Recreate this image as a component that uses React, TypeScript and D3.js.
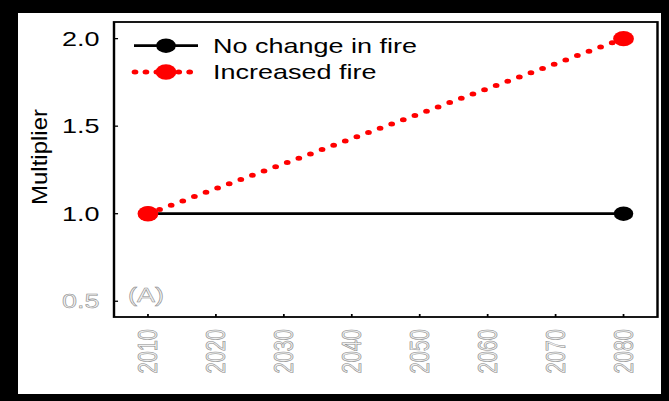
import React from "react";
import * as d3 from "d3";

// Series data
const years = [2010, 2080];
const noChange = [1.0, 1.0];
const increased = [1.0, 2.0];
const xTicks = [2010, 2020, 2030, 2040, 2050, 2060, 2070, 2080];
const yTicks = [0.5, 1.0, 1.5, 2.0];
const seriesNames = ["No change in fire", "Increased fire"];
const seriesColors = ["#000000", "#ff0000"];

const W = 669;
const H = 401;
// horizontal stretch applied to the drawing (text and markers are widened)
const SX = 1.35;
const FONT = "'Liberation Sans', Arial, Helvetica, sans-serif";

const plot = { left: 114, right: 657.5, top: 22, bottom: 317 };

export default function App() {
  const x = d3
    .scaleLinear()
    .domain([2005, 2085])
    .range([plot.left / SX, plot.right / SX]);
  const y = d3
    .scaleLinear()
    .domain([0.41, 2.095])
    .range([plot.bottom, plot.top]);

  const line = d3
    .line<[number, number]>()
    .x((d) => x(d[0]))
    .y((d) => y(d[1]));

  const ptsNo: [number, number][] = years.map((yr, i) => [yr, noChange[i]]);
  const ptsInc: [number, number][] = years.map((yr, i) => [yr, increased[i]]);

  const faint = { fill: "#f0f0f0", stroke: "#8c8c8c", strokeWidth: 0.5 };

  const legendY = [45.7, 72];

  return (
    <svg
      width={W}
      height={H}
      style={{ position: "absolute", left: 0, top: 0, display: "block" }}
    >
      <rect x={0} y={0} width={W} height={H} fill="#000" />
      <rect x={18} y={13} width={643} height={381} fill="#fff" />

      {/* y-axis title */}
      <text
        transform={`translate(47,157) rotate(-90)`}
        textAnchor="middle"
        fontFamily={FONT}
        fontSize={22}
        textLength={96}
        lengthAdjust="spacingAndGlyphs"
        fill="#000"
      >
        Multiplier
      </text>

      <g transform={`scale(${SX},1)`}>
        {/* plot frame */}
        <rect
          x={plot.left / SX}
          y={plot.top}
          width={(plot.right - plot.left) / SX}
          height={plot.bottom - plot.top}
          fill="none"
          stroke="#000"
          strokeWidth={1.8}
        />

        {/* y ticks and labels */}
        {yTicks.map((t) => (
          <g key={`y${t}`}>
            <line
              x1={plot.left / SX}
              x2={plot.left / SX + 3}
              y1={y(t)}
              y2={y(t)}
              stroke="#000"
              strokeWidth={1.3}
            />
            <text
              x={99.5 / SX}
              y={y(t)}
              dy="0.36em"
              textAnchor="end"
              fontFamily={FONT}
              fontSize={20}
              {...(t === 0.5 ? faint : { fill: "#000" })}
            >
              {t.toFixed(1)}
            </text>
          </g>
        ))}

        {/* x ticks and labels */}
        {xTicks.map((t) => (
          <g key={`x${t}`}>
            <line
              x1={x(t)}
              x2={x(t)}
              y1={plot.bottom}
              y2={plot.bottom - 3}
              stroke="#000"
              strokeWidth={1.3}
            />
            <text
              transform={`translate(${x(t) + 9 / SX},329) rotate(-90)`}
              textAnchor="end"
              fontFamily={FONT}
              fontSize={20}
              {...faint}
            >
              {t}
            </text>
          </g>
        ))}

        {/* panel label */}
        <text x={128 / SX} y={302} fontFamily={FONT} fontSize={20} {...faint}>
          (A)
        </text>

        {/* no change series */}
        <path d={line(ptsNo) || ""} fill="none" stroke={seriesColors[0]} strokeWidth={2.8} />
        {ptsNo.map((d, i) => (
          <circle key={`b${i}`} cx={x(d[0])} cy={y(d[1])} r={7.2} fill={seriesColors[0]} />
        ))}

        {/* increased fire series */}
        <path
          d={line(ptsInc) || ""}
          fill="none"
          stroke={seriesColors[1]}
          strokeWidth={5}
          strokeLinecap="round"
          strokeDasharray="0 9.6"
        />
        {ptsInc.map((d, i) => (
          <circle key={`r${i}`} cx={x(d[0])} cy={y(d[1])} r={7.7} fill={seriesColors[1]} />
        ))}

        {/* legend */}
        <line
          x1={134 / SX}
          x2={198 / SX}
          y1={legendY[0]}
          y2={legendY[0]}
          stroke={seriesColors[0]}
          strokeWidth={2.8}
        />
        <circle cx={166 / SX} cy={legendY[0]} r={7.3} fill={seriesColors[0]} />
        <line
          x1={135 / SX}
          x2={198 / SX}
          y1={legendY[1]}
          y2={legendY[1]}
          stroke={seriesColors[1]}
          strokeWidth={5}
          strokeLinecap="round"
          strokeDasharray="0 8.1"
        />
        <circle cx={166 / SX} cy={legendY[1]} r={7.7} fill={seriesColors[1]} />
        {seriesNames.map((name, i) => (
          <text
            key={name}
            x={213 / SX}
            y={legendY[i] + 7.3}
            fontFamily={FONT}
            fontSize={20}
            fill="#000"
          >
            {name}
          </text>
        ))}
      </g>
    </svg>
  );
}
